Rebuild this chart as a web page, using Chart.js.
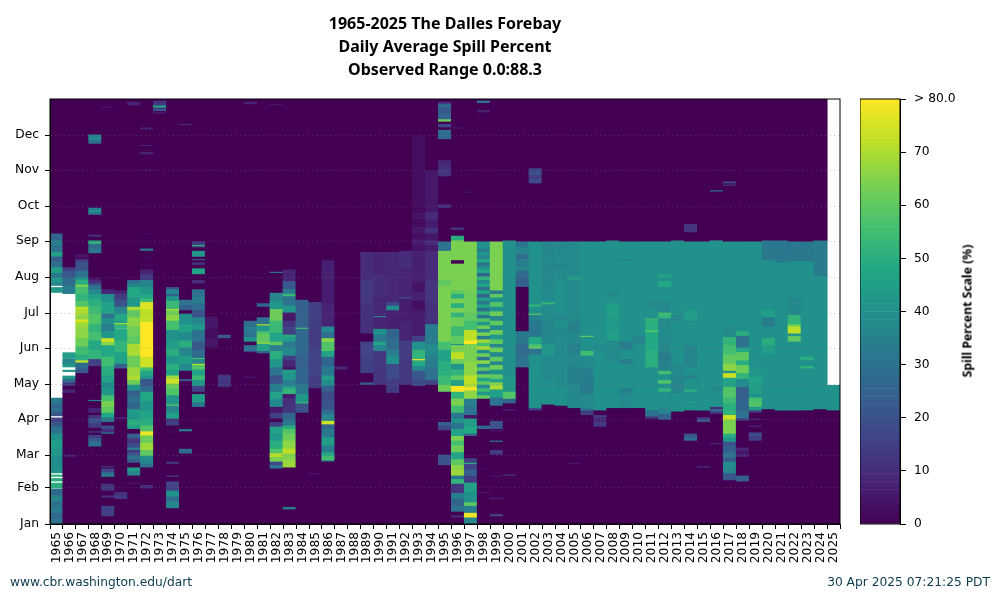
<!DOCTYPE html>
<html>
<head>
<meta charset="utf-8">
<title>The Dalles Forebay Spill</title>
<script src="https://cdn.jsdelivr.net/npm/chart.js@4/dist/chart.umd.min.js"></script>
<style>
  html, body { margin: 0; padding: 0; background: #fff; }
  #wrap { position: relative; width: 1000px; height: 600px; overflow: hidden; }
  canvas { position: absolute; top: 0; }
  #heat { left: 0; }
  #bar { left: 860px; }
  .foot { position: absolute; top: 575px; font: 12.25px "DejaVu Sans"; color: #0d3b50; white-space: nowrap; }
  #scaleTitle {
    position: absolute; left: 967px; top: 311px; white-space: nowrap;
    font: bold 12.25px "Noto Sans"; color: #000;
    transform: translate(-50%, -50%) rotate(-90deg);
  }
</style>
</head>
<body>
<div id="wrap">
  <canvas id="heat" width="1000" height="600"></canvas>
  <canvas id="bar" width="140" height="600"></canvas>
  <div id="scaleTitle">Spill Percent Scale (%)</div>
  <div class="foot" style="left:10px">www.cbr.washington.edu/dart</div>
  <div class="foot" style="right:10px">30 Apr 2025 07:21:25 PDT</div>
</div>
<script>
// Axis labels
const years = ["1965","1966","1967","1968","1969","1970","1971","1972","1973","1974","1975","1976","1977","1978","1979","1980","1981","1982","1983","1984","1985","1986","1987","1988","1989","1990","1991","1992","1993","1994","1995","1996","1997","1998","1999","2000","2001","2002","2003","2004","2005","2006","2007","2008","2009","2010","2011","2012","2013","2014","2015","2016","2017","2018","2019","2020","2021","2022","2023","2024","2025"];
const monthLabels = ["Jan","Feb","Mar","Apr","May","Jun","Jul","Aug","Sep","Oct","Nov","Dec"];
const monthDays = [0,31,59,90,120,151,181,212,243,273,304,334];
const scaleTicks = [0,10,20,30,40,50,60,70,80];

// Each year: [first day of run, spill %], a run lasts until the next one. null = no data
const spill1965 = [[0,30],[5,27],[10,33],[15,29],[20,36],[25,27],[30,null],[31,50],[35,null],[37,50],[39,null],[41,50],[42,null],[44,40],[50,38],[58,42],[66,45],[72,40],[78,30],[84,22],[88,15],[91,null],[93,22],[97,30],[100,26],[104,33],[108,null],[199,42],[203,null],[205,36],[208,42],[212,32],[216,44],[221,28],[226,23],[230,45],[234,30],[240,35],[244,26],[250,0]];
const spill1966 = [[58,6],[60,0],[113,8],[116,0],[119,12],[122,28],[125,42],[127,null],[131,42],[132,null],[135,42],[138,36],[142,null],[143,44],[147,null],[198,34],[205,28],[212,22],[218,14],[221,0]];
const spill1967 = [[130,22],[134,28],[139,72],[141,50],[146,55],[153,62],[160,66],[169,68],[173,72],[175,78],[176,66],[180,70],[185,72],[187,58],[192,52],[198,56],[204,64],[206,50],[210,42],[212,30],[218,20],[226,12],[228,0],[229,5],[232,0]];
const spill1968 = [[67,30],[71,24],[74,15],[77,0],[79,18],[80,0],[83,14],[87,20],[91,12],[94,0],[96,8],[100,0],[106,35],[107,0],[136,15],[142,52],[150,48],[158,56],[165,52],[172,58],[181,54],[188,50],[194,44],[198,38],[202,30],[205,22],[207,10],[210,5],[212,0],[233,32],[237,28],[241,52],[243,42],[244,0],[247,10],[249,0],[266,30],[268,40],[270,34],[272,0],[327,28],[330,38],[333,34],[335,0]];
const spill1969 = [[7,15],[16,0],[23,10],[25,0],[29,12],[35,0],[41,35],[43,28],[45,16],[48,0],[49,15],[50,0],[78,35],[79,10],[82,18],[85,0],[88,32],[92,48],[96,60],[101,64],[106,56],[111,42],[117,38],[122,46],[128,50],[136,55],[144,48],[154,66],[157,74],[160,42],[166,34],[172,40],[177,30],[181,46],[191,40],[198,8],[202,0],[358,6],[359,0]];
const spill1970 = [[22,14],[25,11],[28,0],[91,12],[92,0],[134,25],[138,46],[148,52],[158,48],[167,null],[168,52],[172,70],[173,45],[176,48],[181,36],[187,20],[193,14],[198,8],[201,0]];
const spill1971 = [[35,6],[36,0],[42,36],[46,44],[49,0],[53,24],[56,30],[59,22],[62,12],[64,35],[66,18],[70,12],[74,24],[78,0],[82,45],[85,50],[90,42],[95,44],[99,26],[105,30],[110,24],[115,40],[120,62],[124,70],[128,68],[135,62],[145,70],[155,60],[161,62],[170,66],[178,60],[184,70],[187,42],[195,48],[204,36],[207,28],[210,0],[360,8],[363,0]];
const spill1972 = [[31,10],[34,0],[49,30],[52,36],[56,40],[59,60],[64,68],[70,62],[76,70],[77,78],[80,58],[85,50],[91,46],[98,42],[106,48],[114,28],[119,22],[125,42],[128,48],[132,56],[135,74],[144,80],[174,72],[185,76],[191,55],[194,48],[198,42],[204,36],[210,14],[215,8],[219,0],[222,3],[223,0],[229,3],[230,0],[235,32],[237,0],[249,3],[250,0],[304,4],[305,0],[318,8],[320,0],[325,8],[326,0],[339,7],[341,0]];
const spill1973 = [[353,8],[354,0],[355,20],[357,10],[358,48],[359,42],[360,12],[364,0]];
const spill1974 = [[14,36],[20,28],[24,40],[29,16],[37,0],[41,15],[42,0],[52,12],[54,0],[79,3],[80,0],[85,15],[89,12],[91,45],[96,36],[102,60],[103,42],[111,58],[117,62],[121,74],[125,68],[128,46],[133,50],[138,42],[145,50],[151,44],[158,40],[167,56],[175,66],[180,62],[184,72],[185,54],[192,42],[196,25],[198,36],[202,20],[204,0]];
const spill1975 = [[61,28],[65,0],[80,32],[82,0],[123,20],[125,0],[132,38],[138,44],[145,36],[152,50],[158,38],[165,46],[172,40],[181,0],[184,24],[188,30],[193,0],[343,10],[344,0]];
const spill1976 = [[101,32],[105,44],[112,0],[114,16],[119,42],[124,54],[128,46],[133,58],[137,72],[138,36],[142,56],[143,28],[150,22],[157,30],[167,42],[172,36],[178,20],[184,28],[190,34],[196,30],[202,0],[207,10],[210,0],[215,46],[220,0],[223,12],[225,0],[227,20],[228,0],[230,42],[235,0],[238,15],[239,52],[240,15],[243,0]];
const spill1977 = [[152,5],[160,3],[168,5],[178,2],[179,0]];
const spill1978 = [[118,12],[124,14],[128,8],[129,0],[160,22],[163,0]];
const spill1979 = [];
const spill1980 = [[126,6],[127,0],[148,15],[149,30],[154,0],[157,40],[161,30],[166,34],[170,28],[175,0],[361,8],[363,0]];
const spill1981 = [[147,25],[149,46],[155,64],[157,60],[164,56],[166,42],[171,72],[172,30],[178,0],[187,26],[190,0]];
const spill1982 = [[48,30],[51,18],[54,64],[58,72],[61,58],[65,50],[72,42],[78,46],[84,15],[88,0],[91,15],[96,5],[101,38],[108,46],[114,34],[121,20],[128,30],[135,42],[142,50],[149,34],[154,60],[157,46],[165,54],[175,62],[185,42],[192,36],[199,0],[216,30],[217,0],[360,6],[361,0]];
const spill1983 = [[13,35],[15,0],[49,68],[55,65],[61,72],[65,66],[72,62],[78,58],[82,50],[85,32],[90,26],[96,12],[103,10],[109,5],[112,52],[117,44],[119,34],[124,42],[130,44],[133,3],[135,8],[141,15],[145,38],[152,32],[157,44],[161,50],[163,15],[170,12],[175,5],[182,42],[188,30],[196,54],[198,34],[202,22],[209,8],[219,0]];
const spill1984 = [[96,20],[104,54],[105,42],[112,32],[121,26],[135,25],[146,27],[168,55],[169,25],[193,0]];
const spill1985 = [[43,5],[44,0],[117,14],[128,16],[150,14],[170,15],[191,0]];
const spill1986 = [[54,26],[55,55],[59,48],[62,34],[68,44],[75,32],[82,26],[86,74],[89,36],[95,28],[99,20],[108,18],[114,24],[119,38],[124,44],[128,32],[136,26],[144,46],[149,58],[157,66],[160,28],[165,38],[170,8],[190,6],[210,7],[227,0]];
const spill1987 = [[133,8],[136,0]];
const spill1988 = [];
const spill1989 = [[120,25],[122,0],[130,15],[145,16],[157,0],[164,11],[190,13],[210,10],[234,0]];
const spill1990 = [[120,12],[135,13],[149,36],[154,46],[157,32],[163,40],[168,8],[178,36],[179,9],[195,10],[215,8],[234,0]];
const spill1991 = [[113,14],[125,18],[138,40],[145,34],[150,28],[160,26],[168,7],[184,38],[188,16],[191,9],[234,0]];
const spill1992 = [[120,13],[140,14],[158,8],[175,6],[194,20],[195,8],[220,10],[235,0]];
const spill1993 = [[119,18],[125,22],[132,36],[136,48],[141,80],[142,52],[150,40],[157,15],[162,6],[185,3],[192,7],[200,4],[208,7],[235,4],[240,6],[245,3],[250,5],[256,2],[262,4],[268,2],[275,3],[334,0]];
const spill1994 = [[120,16],[124,30],[135,34],[145,38],[155,34],[172,11],[190,12],[210,10],[235,6],[240,10],[244,5],[250,11],[255,6],[262,10],[268,5],[276,5],[304,0]];
const spill1995 = [[51,20],[60,0],[81,18],[85,24],[88,0],[114,62],[120,54],[128,50],[140,46],[150,56],[157,64],[205,60],[210,64],[235,30],[243,0],[272,12],[274,8],[275,0],[299,12],[305,10],[309,8],[313,0],[331,28],[339,0],[341,16],[344,0],[346,62],[348,26],[353,22],[358,28],[361,12],[363,0]];
const spill1996 = [[6,10],[8,0],[11,30],[16,26],[22,35],[27,12],[35,52],[39,32],[42,68],[47,66],[51,60],[56,46],[62,62],[68,56],[72,64],[76,46],[82,30],[87,40],[91,32],[96,55],[102,64],[108,52],[114,80],[119,45],[124,60],[128,52],[133,42],[138,62],[142,72],[148,64],[154,40],[155,60],[162,54],[170,62],[178,52],[182,64],[186,50],[190,64],[194,50],[198,60],[201,64],[224,0],[227,64],[244,50],[248,0],[253,12],[255,0],[340,5],[341,0]];
const spill1997 = [[0,36],[6,78],[10,34],[16,60],[19,40],[28,45],[36,14],[42,24],[47,16],[52,50],[53,15],[57,0],[76,25],[78,48],[84,44],[91,5],[94,30],[102,34],[108,66],[115,78],[118,70],[121,72],[128,66],[140,64],[152,64],[155,80],[158,72],[167,56],[175,60],[181,62],[201,64],[243,0],[285,4],[286,0]];
const spill1998 = [[27,5],[28,0],[47,3],[48,0],[82,26],[85,0],[108,60],[111,42],[114,55],[117,38],[120,60],[123,46],[126,62],[129,34],[132,60],[135,38],[138,66],[141,30],[144,62],[147,40],[150,70],[153,56],[156,68],[159,34],[162,64],[165,36],[168,62],[171,42],[174,58],[177,32],[180,52],[183,28],[186,46],[189,32],[192,44],[195,26],[198,48],[201,30],[204,46],[207,38],[210,52],[213,26],[216,48],[219,40],[222,30],[225,48],[228,36],[231,42],[234,34],[237,40],[243,0],[354,8],[356,0],[362,30],[364,0]];
const spill1999 = [[7,15],[9,0],[22,8],[23,0],[41,5],[42,0],[60,14],[64,0],[71,35],[72,0],[80,6],[81,0],[82,20],[89,0],[102,30],[109,45],[116,70],[119,66],[122,46],[125,60],[129,40],[133,62],[137,36],[140,60],[144,38],[148,62],[152,36],[155,60],[159,42],[163,62],[167,38],[171,60],[175,36],[179,62],[183,40],[187,58],[191,40],[195,60],[198,32],[201,64],[243,0]];
const spill2000 = [[42,15],[43,0],[98,10],[99,0],[104,26],[108,58],[114,42],[128,40],[244,0]];
const spill2001 = [[135,30],[145,28],[155,32],[166,0],[204,24],[212,28],[218,36],[222,34],[228,28],[232,36],[238,31],[243,0]];
const spill2002 = [[98,15],[100,40],[146,30],[151,60],[153,55],[155,48],[161,32],[175,35],[180,60],[181,40],[187,52],[189,40],[243,0],[293,18],[297,14],[300,20],[303,16],[306,0]];
const spill2003 = [[103,40],[123,38],[145,42],[155,37],[165,36],[175,38],[189,52],[191,38],[205,37],[215,36],[225,37],[233,36],[243,0]];
const spill2004 = [[102,40],[118,38],[167,33],[168,40],[175,37],[180,40],[210,38],[222,33],[223,38],[237,37],[243,0]];
const spill2005 = [[52,5],[53,0],[100,37],[120,35],[135,37],[147,35],[155,37],[165,35],[173,37],[180,38],[210,44],[213,38],[243,0]];
const spill2006 = [[94,15],[98,32],[100,38],[112,33],[125,34],[134,38],[145,55],[149,40],[161,60],[162,40],[243,0]];
const spill2007 = [[84,14],[88,9],[92,14],[94,0],[98,40],[150,38],[155,40],[243,0]];
const spill2008 = [[100,40],[140,38],[158,45],[165,43],[178,45],[190,40],[196,37],[200,40],[244,0]];
const spill2009 = [[100,38],[112,35],[117,40],[138,34],[142,40],[150,33],[157,40],[227,33],[228,40],[243,0]];
const spill2010 = [[100,40],[155,36],[162,40],[243,0]];
const spill2011 = [[91,15],[93,30],[98,40],[135,50],[150,48],[165,56],[167,50],[175,53],[177,40],[187,37],[191,40],[243,0]];
const spill2012 = [[90,25],[95,36],[100,40],[114,52],[117,40],[121,58],[124,40],[129,55],[132,35],[140,33],[147,37],[160,38],[170,37],[177,52],[180,56],[182,37],[191,40],[204,48],[209,40],[212,46],[215,40],[243,0]];
const spill2013 = [[97,40],[112,36],[128,37],[138,40],[175,37],[180,40],[244,0]];
const spill2014 = [[72,28],[75,22],[78,0],[98,40],[104,46],[105,40],[114,50],[116,40],[126,34],[128,40],[135,36],[154,40],[175,44],[184,40],[243,0],[251,12],[258,0]];
const spill2015 = [[49,12],[50,0],[88,22],[90,14],[92,0],[98,40],[243,0]];
const spill2016 = [[69,8],[70,0],[95,12],[97,28],[99,10],[101,40],[115,36],[118,40],[244,0],[286,30],[287,0]];
const spill2017 = [[38,22],[44,36],[48,38],[54,22],[57,30],[62,24],[68,20],[71,42],[75,50],[78,64],[90,74],[94,52],[98,50],[104,54],[109,58],[118,46],[126,74],[130,40],[132,66],[138,60],[146,56],[154,52],[161,38],[170,40],[243,0],[291,14],[292,0],[293,22],[294,8],[295,0]];
const spill2018 = [[37,25],[42,0],[58,7],[61,4],[63,8],[66,0],[89,12],[91,30],[98,26],[108,24],[118,38],[125,52],[130,62],[137,50],[141,60],[148,48],[152,30],[162,50],[166,40],[243,0]];
const spill2019 = [[72,15],[76,18],[79,0],[84,10],[85,0],[90,10],[91,0],[96,14],[98,42],[101,58],[106,56],[109,40],[112,44],[120,46],[127,42],[135,40],[243,0]];
const spill2020 = [[99,40],[147,45],[154,50],[160,40],[170,33],[178,45],[184,40],[227,32],[244,0]];
const spill2021 = [[98,40],[225,32],[244,0]];
const spill2022 = [[98,40],[157,60],[162,40],[164,72],[170,62],[172,52],[180,37],[195,40],[226,32],[243,0]];
const spill2023 = [[98,40],[134,52],[136,40],[141,50],[144,40],[226,32],[243,0]];
const spill2024 = [[99,40],[213,33],[244,0]];
const spill2025 = [[98,40],[119,null]];

const spillByYear = [spill1965,spill1966,spill1967,spill1968,spill1969,spill1970,spill1971,spill1972,spill1973,spill1974,spill1975,spill1976,spill1977,spill1978,spill1979,spill1980,spill1981,spill1982,spill1983,spill1984,spill1985,spill1986,spill1987,spill1988,spill1989,spill1990,spill1991,spill1992,spill1993,spill1994,spill1995,spill1996,spill1997,spill1998,spill1999,spill2000,spill2001,spill2002,spill2003,spill2004,spill2005,spill2006,spill2007,spill2008,spill2009,spill2010,spill2011,spill2012,spill2013,spill2014,spill2015,spill2016,spill2017,spill2018,spill2019,spill2020,spill2021,spill2022,spill2023,spill2024,spill2025];

// Viridis colour for a spill percent, 0 to 80
const viridis = ["#440154","#482475","#414487","#355f8d","#2a788e","#21918c","#22a884","#44bf70","#7ad151","#bddf26","#fde725"];
const rgb = (hex) => [1, 3, 5].map((i) => parseInt(hex.slice(i, i + 2), 16));
const colorFor = (value) => {
  const t = Math.min(value / 80, 1) * (viridis.length - 1);
  const i = Math.min(Math.floor(t), viridis.length - 2);
  const a = rgb(viridis[i]);
  const b = rgb(viridis[i + 1]);
  const c = a.map((v, k) => Math.round(v + (b[k] - v) * (t - i)));
  return `rgb(${c[0]},${c[1]},${c[2]})`;
};

// Turn the runs into floating bars
const cells = [];
spillByYear.forEach((runs, i) => {
  const full = runs.length && runs[0][0] === 0 ? runs : [[0, 0], ...runs];
  full.forEach(([start, value], k) => {
    if (value === null) return;
    const end = k + 1 < full.length ? full[k + 1][0] : 366;
    if (end > start) cells.push({ x: years[i], y: [start, end], v: value });
  });
});

// Black box round the plot
const frame = {
  id: "frame",
  afterDraw(chart) {
    const { ctx, chartArea: a } = chart;
    ctx.save();
    ctx.strokeStyle = "#000";
    ctx.lineWidth = 1;
    ctx.strokeRect(a.left, a.top, a.right - a.left, a.bottom - a.top);
    ctx.restore();
  },
};

const tickFont = { family: "DejaVu Sans", size: 12.25 };

new Chart(document.getElementById("heat"), {
  type: "bar",
  data: {
    labels: years,
    datasets: [{
      data: cells,
      backgroundColor: cells.map((c) => colorFor(c.v)),
      barPercentage: 1,
      categoryPercentage: 1,
      inflateAmount: 0.5,
    }],
  },
  options: {
    responsive: false,
    animation: false,
    layout: { padding: { right: 160 } },
    plugins: {
      legend: { display: false },
      tooltip: { enabled: false },
      title: {
        display: true,
        fullSize: false,
        text: ["1965-2025 The Dalles Forebay", "Daily Average Spill Percent", "Observed Range 0.0:88.3"],
        color: "#000",
        font: { family: "Noto Sans", size: 16, weight: "bold", lineHeight: "23px" },
        padding: { top: 12.5, bottom: 17.5 },
      },
    },
    scales: {
      x: {
        ticks: { color: "#000", font: tickFont, minRotation: 90, maxRotation: 90, autoSkip: false, padding: 3 },
        grid: { display: true, drawOnChartArea: false, tickColor: "#000", tickLength: 5 },
        border: { color: "#000" },
        afterFit: (scale) => { scale.height = 76; },
      },
      y: {
        min: 0,
        max: 365,
        afterBuildTicks: (scale) => { scale.ticks = monthDays.map((v) => ({ value: v })); },
        ticks: {
          color: "#000",
          font: tickFont,
          autoSkip: false,
          padding: 6,
          callback: (v) => monthLabels[monthDays.indexOf(v)],
        },
        grid: { z: 1, color: "rgba(115,115,115,0.45)", tickColor: "#000", tickLength: 5, tickBorderDash: [] },
        border: { color: "#000", dash: [1, 3.5], z: 2 },
        afterFit: (scale) => { scale.width = 50; },
      },
    },
  },
  plugins: [frame],
});

// Colour bar
const levels = [];
for (let v = 0; v < 80; v += 0.5) levels.push(v);

new Chart(document.getElementById("bar"), {
  type: "bar",
  data: {
    labels: ["scale"],
    datasets: [{
      data: levels.map((v) => ({ x: "scale", y: [v, v + 0.5] })),
      backgroundColor: levels.map((v) => colorFor(v + 0.25)),
      barPercentage: 1,
      categoryPercentage: 1,
    }],
  },
  options: {
    responsive: false,
    animation: false,
    layout: { padding: { top: 99, bottom: 76 } },
    plugins: { legend: { display: false }, tooltip: { enabled: false } },
    scales: {
      x: {
        ticks: { display: false },
        grid: { display: false },
        border: { display: false },
        afterFit: (scale) => { scale.height = 0; },
      },
      y: {
        position: "right",
        min: 0,
        max: 80,
        afterBuildTicks: (scale) => { scale.ticks = scaleTicks.map((v) => ({ value: v })); },
        ticks: {
          color: "#000",
          font: tickFont,
          padding: 8,
          callback: (v) => (v === 80 ? "> 80.0" : String(v)),
        },
        grid: { drawOnChartArea: false, tickColor: "#000", tickLength: 6 },
        border: { color: "#000" },
        afterFit: (scale) => { scale.width = 100; },
      },
    },
  },
  plugins: [frame],
});
</script>
</body>
</html>
